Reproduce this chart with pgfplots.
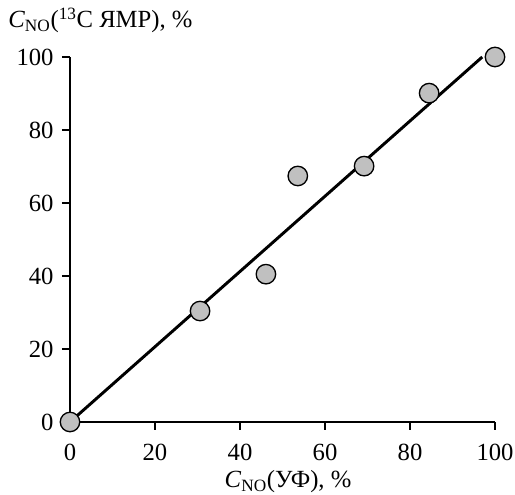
\documentclass[border=0pt]{standalone}
\usepackage{pgfplots}
\pgfplotsset{compat=1.18}
\usepackage{fontspec}
\setmainfont{Liberation Serif}
\definecolor{markfill}{RGB}{192,192,192}
\begin{document}
\fontsize{18.5pt}{22pt}\selectfont
\begin{tikzpicture}
\useasboundingbox (0,0) rectangle (386.25pt,371.25pt);
\begin{axis}[
  at={(52.5pt,54.75pt)}, anchor=south west,
  scale only axis, width=318.75pt, height=273.75pt,
  xmin=0, xmax=100, ymin=0, ymax=100,
  axis lines=left,
  axis line style={-, line width=1.1pt},
  tick style={line width=1.1pt, black},
  tick align=outside,
  major tick length=6pt,
  xtick={0,20,...,100}, ytick={0,20,...,100},
  clip=false,
  /pgf/number format/assume math mode=true,
  ticklabel style={font=\fontsize{18.5pt}{22pt}\selectfont},
  xticklabel style={yshift=-4pt},
]
\addplot[line width=2.2pt, black] coordinates {(0,0) (97,100)};
\addplot[only marks, mark=*, mark size=7.3pt, mark options={fill=markfill, draw=black, line width=1pt}] coordinates {
(0,0) (30.6,30.4) (46.1,40.5) (53.6,67.4) (69.2,70.1) (84.5,90.1) (100,100)};
\end{axis}
\node[anchor=base west, inner sep=0pt] at (6pt,350.25pt) {\textit{C}\textsubscript{NO}(\textsuperscript{13}C ЯМР), \%};
\node[anchor=base, inner sep=0pt] at (216pt,5.5pt) {\textit{C}\textsubscript{NO}(УФ), \%};
\end{tikzpicture}
\end{document}
